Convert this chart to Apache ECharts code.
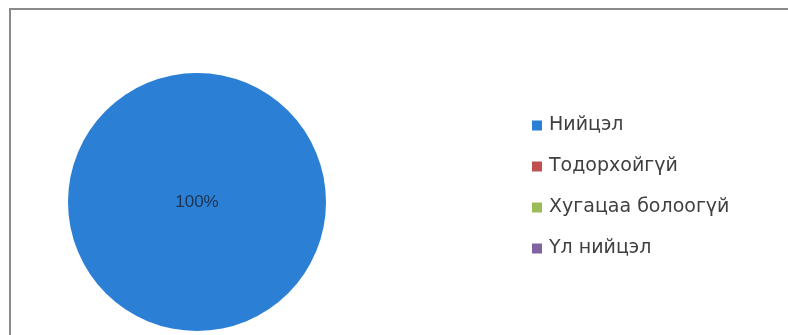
<!DOCTYPE html>
<html>
<head>
<meta charset="utf-8">
<script src="https://cdn.jsdelivr.net/npm/echarts@6/dist/echarts.min.js"></script>
<style>
html,body{margin:0;padding:0;background:#fff;}
#c{width:788px;height:335px;}
</style>
</head>
<body>
<div id="c"></div>
<script>
const categories = ['Нийцэл', 'Тодорхойгүй', 'Хугацаа болоогүй', 'Үл нийцэл'];
const values = [100, 0, 0, 0];
const colors = ['#2b7fd4', '#c0504d', '#9bbb59', '#8064a2'];

const total = values.reduce((a, b) => a + b, 0);
const chart = echarts.init(document.getElementById('c'));
chart.setOption({
  animation: false,
  backgroundColor: '#ffffff',
  color: colors,
  graphic: [{
    type: 'rect',
    shape: { x: 10, y: 9, width: 820, height: 400 },
    style: { fill: 'none', stroke: '#8a8a8a', lineWidth: 2 },
    silent: true
  }],
  legend: {
    orient: 'vertical',
    left: 527,
    top: 111,
    itemWidth: 10,
    itemHeight: 10,
    itemGap: 22,
    icon: 'rect',
    textStyle: { fontFamily: 'DejaVu Sans', fontSize: 19, color: '#404040', padding: [0, 0, 0, 2] },
    data: categories
  },
  series: [{
    type: 'pie',
    center: [197, 202],
    radius: 129,
    startAngle: 90,
    stillShowZeroSum: true,
    itemStyle: { borderWidth: 0 },
    label: {
      show: true,
      position: 'center',
      fontFamily: 'Liberation Sans',
      fontSize: 17,
      color: '#1d3552',
      formatter: p => p.value > 0 ? Math.round(p.value / total * 100) + '%' : ''
    },
    labelLine: { show: false },
    emphasis: { disabled: true },
    data: categories.map((n, i) => ({ name: n, value: values[i] }))
  }]
});
</script>
</body>
</html>
